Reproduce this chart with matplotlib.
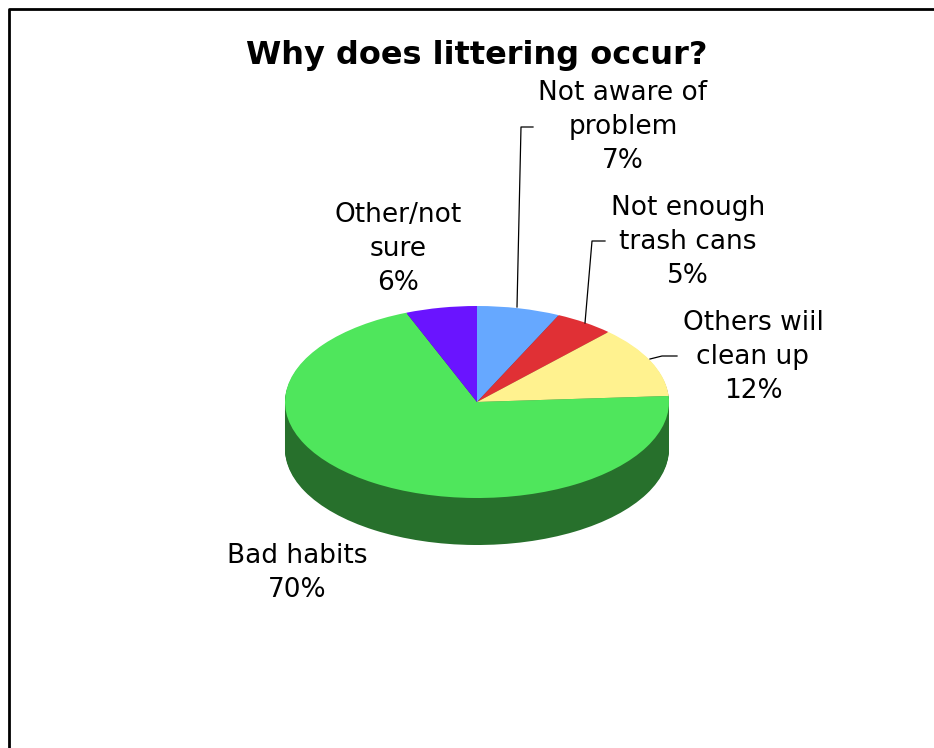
"""Pie chart of why littering occurs, drawn with a tilted look."""
import matplotlib
matplotlib.use("Agg")
import matplotlib.pyplot as plt
from matplotlib.transforms import Affine2D

labels = ["Not aware of\nproblem\n7%", "Not enough\ntrash cans\n5%",
          "Others wiil\nclean up\n12%", "Bad habits\n70%", "Other/not\nsure\n6%"]
shares = [7, 5, 12, 70, 6]
top_colors = ["#66a8ff", "#e03035", "#fff28f", "#4fe65c", "#6a14ff"]
side_colors = ["#33547f", "#70181a", "#807947", "#27702c", "#350a7f"]

W, H = 934, 748
CX, CY = 477, H - 402
RX, RY = 192, 96
DEPTH = 47

label_pos = [(623, 127), (688, 242), (753, 357), (297, 573), (398, 249)]
leaders = [[(517, 307), (521, 127), (533, 127)],
           [(585, 323), (592, 241), (605, 241)],
           [(650, 359), (662, 356), (677, 356)]]


def draw_pie(ax, colors, dy):
    wedges, _ = ax.pie(shares, colors=colors, startangle=90, counterclock=False)
    tf = Affine2D().scale(RX, RY).translate(CX, CY - dy) + ax.transData
    for w in wedges:
        w.set_transform(tf)
        w.set_linewidth(0)
    return wedges


def main():
    fig = plt.figure(figsize=(W / 100, H / 100), dpi=100)
    ax = fig.add_axes([0, 0, 1, 1])

    # stack dark copies to get the side wall
    for dy in range(DEPTH, 0, -1):
        draw_pie(ax, side_colors, dy)
    draw_pie(ax, top_colors, 0)

    ax.set_aspect("auto")
    ax.set_xlim(0, W)
    ax.set_ylim(0, H)
    ax.axis("off")

    for pts in leaders:
        ax.plot([p[0] for p in pts], [H - p[1] for p in pts], color="black", lw=0.9)

    for text, pos in zip(labels, label_pos):
        ax.text(pos[0], H - pos[1], text, ha="center", va="center", fontsize=19,
                linespacing=1.38, color="black")

    ax.text(477, H - 55, "Why does littering occur?", ha="center", va="center",
            fontsize=23, fontweight="bold", color="black")

    # frame is cut by the image on the right and bottom
    ax.plot([9, 9, W + 5], [-5, H - 9, H - 9], color="black", lw=2, clip_on=False)

    fig.savefig("out.png", dpi=100)


if __name__ == "__main__":
    main()
